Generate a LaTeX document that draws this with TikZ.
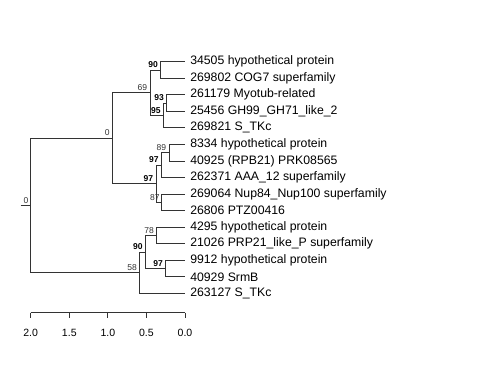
\documentclass[tikz,border=0pt]{standalone}
\usepackage{fontspec}
\setmainfont{Liberation Sans}
\begin{document}
\begin{tikzpicture}[x=0.75pt,y=-0.75pt,
  br/.style={line width=0.7pt,draw=black!80},
  tip/.style={anchor=west,inner sep=0pt,font=\fontsize{9.2}{10}\selectfont},
  bs/.style={anchor=south east,inner sep=0pt,font=\fontsize{6.4}{7}\selectfont\bfseries},
  bn/.style={anchor=south east,inner sep=0pt,font=\fontsize{6.4}{7}\selectfont,text=black!80},
  axlab/.style={inner sep=0pt,font=\fontsize{7.9}{9}\selectfont}]
\useasboundingbox (0,0) rectangle (480,384);
% leaf tips
\foreach \i/\n in {0/t0,1/t1,2/t2,3/t3,4/t4,5/t5,6/t6,7/t7,8/t8,9/t9,10/t10,11/t11,12/t12,13/t13,14/t14}{
  \coordinate (\n) at (185,{61.7+16.55*\i});
}
\node[tip] (l0) at (190,61.7) {34505 hypothetical protein};
\node[tip] (l1) at (190,78.25) {269802 COG7 superfamily};
\node[tip] (l2) at (190,94.8) {261179 Myotub-related};
\node[tip] (l3) at (190,111.35) {25456 GH99\_GH71\_like\_2};
\node[tip] (l4) at (190,127.9) {269821 S\_TKc};
\node[tip] (l5) at (190,144.45) {8334 hypothetical protein};
\node[tip] (l6) at (190,161.0) {40925 (RPB21) PRK08565};
\node[tip] (l7) at (190,177.55) {262371 AAA\_12 superfamily};
\node[tip] (l8) at (190,194.1) {269064 Nup84\_Nup100 superfamily};
\node[tip] (l9) at (190,210.65) {26806 PTZ00416};
\node[tip] (l10) at (190,227.2) {4295 hypothetical protein};
\node[tip] (l11) at (190,243.75) {21026 PRP21\_like\_P superfamily};
\node[tip] (l12) at (190,260.3) {9912 hypothetical protein};
\node[tip] (l13) at (190,276.85) {40929 SrmB};
\node[tip] (l14) at (190,293.4) {263127 S\_TKc};
% internal nodes
\coordinate (n90) at (160.7,69.98);
\coordinate (n93) at (166.7,103.08);
\coordinate (n95) at (163.3,115.49);
\coordinate (n69) at (150,92.73);
\coordinate (n89) at (169,152.73);
\coordinate (n97a) at (161.3,165.14);
\coordinate (n87) at (161.3,202.38);
\coordinate (n97b) at (156,183.76);
\coordinate (n0) at (112.3,138.25);
\coordinate (n78) at (156.7,235.48);
\coordinate (n97c) at (165.7,268.58);
\coordinate (n90b) at (145.3,252.03);
\coordinate (n58) at (139.7,272.7);
\coordinate (root) at (30.7,205.5);
\coordinate (stub) at (20.7,205.5);
% edges
\draw[br] (stub) -- (root);
\draw[br] (root) |- (n0);
\draw[br] (root) |- (n58);
\draw[br] (n0) |- (n69);
\draw[br] (n0) |- (n97b);
\draw[br] (n69) |- (n90);
\draw[br] (n69) |- (n95);
\draw[br] (n90) |- (t0);
\draw[br] (n90) |- (t1);
\draw[br] (n95) |- (n93);
\draw[br] (n95) |- (t4);
\draw[br] (n93) |- (t2);
\draw[br] (n93) |- (t3);
\draw[br] (n97b) |- (n97a);
\draw[br] (n97b) |- (n87);
\draw[br] (n97a) |- (n89);
\draw[br] (n97a) |- (t7);
\draw[br] (n89) |- (t5);
\draw[br] (n89) |- (t6);
\draw[br] (n87) |- (t8);
\draw[br] (n87) |- (t9);
\draw[br] (n58) |- (n90b);
\draw[br] (n58) |- (t14);
\draw[br] (n90b) |- (n78);
\draw[br] (n90b) |- (n97c);
\draw[br] (n78) |- (t10);
\draw[br] (n78) |- (t11);
\draw[br] (n97c) |- (t12);
\draw[br] (n97c) |- (t13);
% support labels
\node[bn] (s0) at ([shift={(-2,-2)}]root) {0};
\node[bn] (s1) at ([shift={(-2.5,-2)}]n0) {0};
\node[bn] (s2) at ([shift={(-2.5,-2)}]n69) {69};
\node[bs] (s3) at ([shift={(-2.5,-2)}]n90) {90};
\node[bs] (s4) at ([shift={(-2.5,-2)}]n93) {93};
\node[bs] (s5) at ([shift={(-2.5,-2)}]n95) {95};
\node[bn] (s6) at ([shift={(-2.5,-2)}]n89) {89};
\node[bs] (s7) at ([shift={(-2.5,-2)}]n97a) {97};
\node[bs] (s8) at ([shift={(-2.5,-2)}]n97b) {97};
\node[bn] (s9) at ([shift={(-1.5,-2)}]n87) {87};
\node[bn] (s10) at ([shift={(-2.5,-2)}]n78) {78};
\node[bs] (s11) at ([shift={(-2.5,-2)}]n90b) {90};
\node[bs] (s12) at ([shift={(-2.5,-2)}]n97c) {97};
\node[bn] (s13) at ([shift={(-2.5,-2)}]n58) {58};
% scale axis
\draw[br] (30.7,312.7) -- (185,312.7);
\foreach \x/\v in {30.7/2.0,69.3/1.5,107.85/1.0,146.4/0.5,185/0.0}{
  \draw[br] (\x,312.7) -- (\x,318.5);
  \node[axlab] at (\x,333) {\v};
}
\end{tikzpicture}
\end{document}
